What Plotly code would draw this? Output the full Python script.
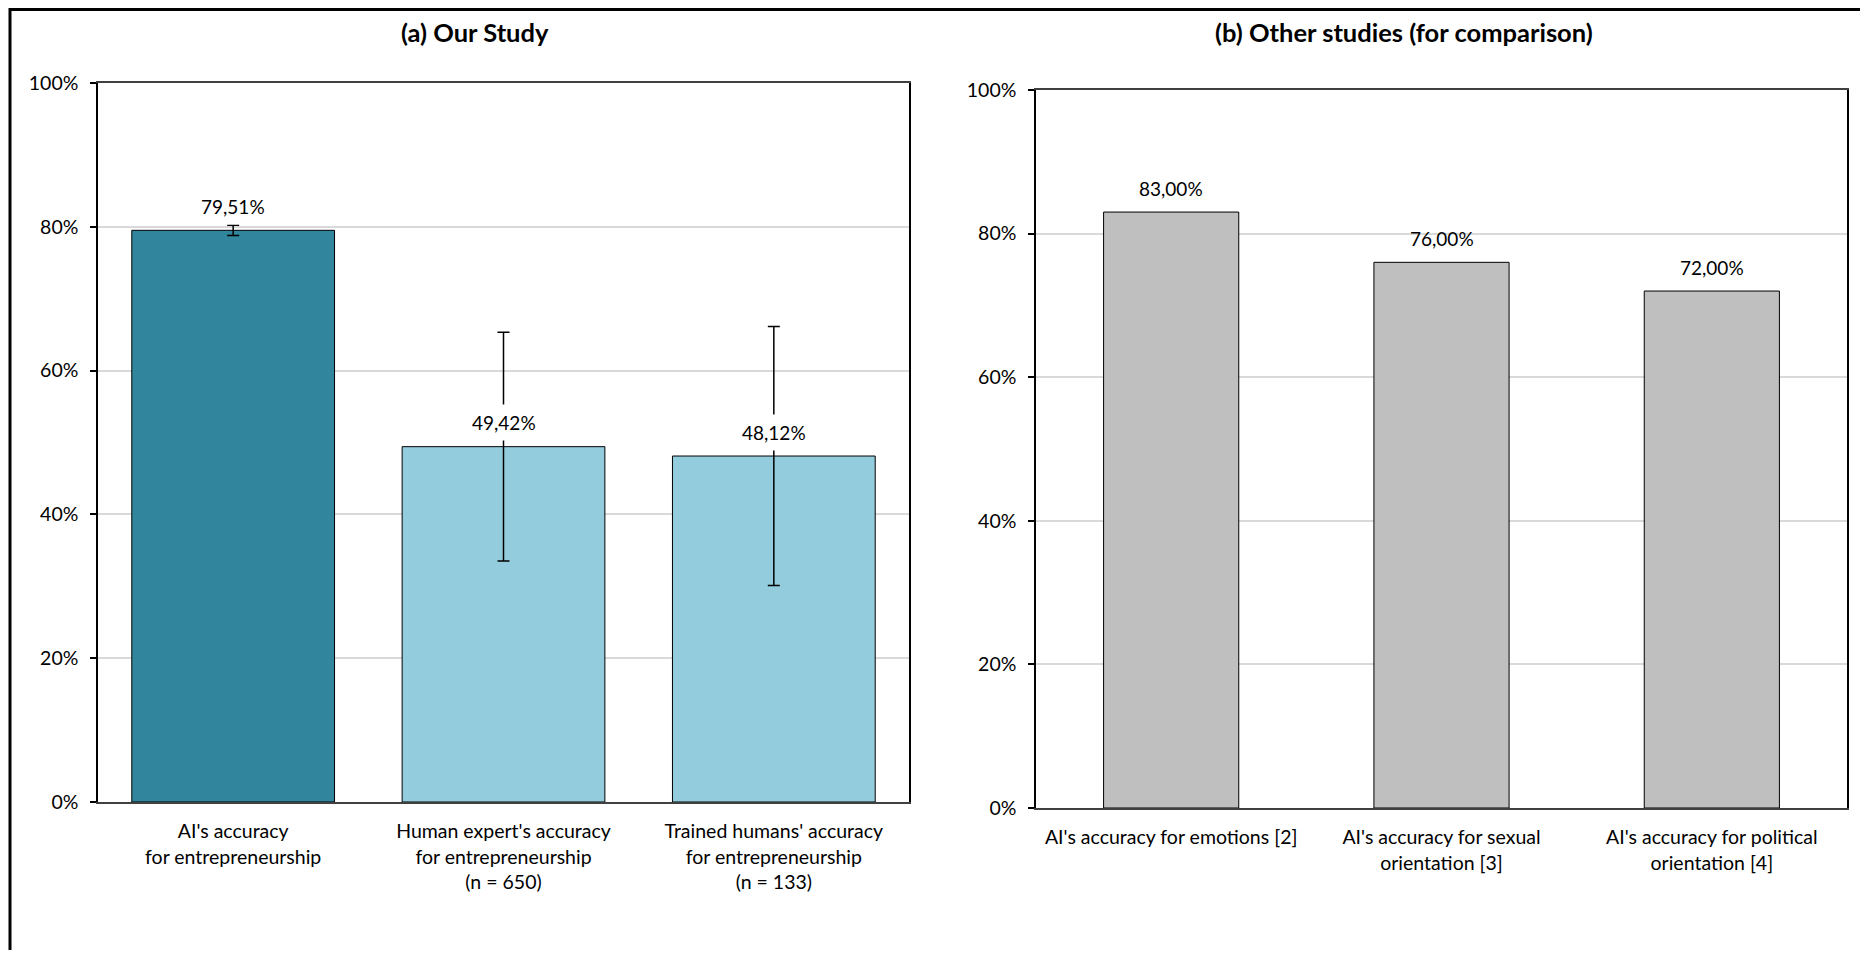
import plotly.graph_objects as go

# page body has an 8px margin; figure is sized/offset to fit the 1868x958 window
OFF = 8
W, H = 1868 - 2 * OFF, 958 - 2 * OFF


def px(x):
    return (x - OFF) / W


def py(y):
    return 1 - (y - OFF) / H


# ---- data ----
ours_categories = [
    "AI's accuracy<br>for entrepreneurship",
    "Human expert's accuracy<br>for entrepreneurship<br>(n = 650)",
    "Trained humans' accuracy<br>for entrepreneurship<br>(n = 133)",
]
ours_values = [0.7951, 0.4942, 0.4812]
ours_errors = [0.0072, 0.1590, 0.1800]
ours_colors = ["#31859C", "#93CDDD", "#93CDDD"]

other_categories = [
    "AI's accuracy for emotions [2]",
    "AI's accuracy for sexual<br>orientation [3]",
    "AI's accuracy for political<br>orientation [4]",
]
other_values = [0.83, 0.76, 0.72]
other_color = "#BFBFBF"

y_tickvals = [0, 0.2, 0.4, 0.6, 0.8, 1.0]
y_ticktext = ["0%", "20%", "40%", "60%", "80%", "100%"]

panel_titles = ["(a) Our Study", "(b) Other studies (for comparison)"]

FONT = "Lato"
TICK_SIZE = 19.5
VALUE_SIZE = 19
TITLE_SIZE = 25.5


def pct(v):
    return f"{v*100:.2f}".replace(".", ",") + "%"


fig = go.Figure()

fig.add_trace(go.Bar(
    x=ours_categories, y=ours_values, width=0.75,
    marker=dict(color=ours_colors, line=dict(color="black", width=1)),
    error_y=dict(type="data", array=ours_errors, visible=True,
                 color="black", thickness=1.5, width=6),
    xaxis="x", yaxis="y", showlegend=False, hoverinfo="skip",
))
fig.add_trace(go.Bar(
    x=other_categories, y=other_values, width=0.5,
    marker=dict(color=other_color, line=dict(color="black", width=1)),
    xaxis="x2", yaxis="y2", showlegend=False, hoverinfo="skip",
))

annotations = []
for c, v in zip(ours_categories, ours_values):
    annotations.append(dict(
        x=c, y=v, xref="x", yref="y", text=pct(v), showarrow=False,
        yshift=24, yanchor="middle", bgcolor="white", borderpad=6,
        font=dict(family=FONT, size=VALUE_SIZE, color="black"),
    ))
for c, v in zip(other_categories, other_values):
    annotations.append(dict(
        x=c, y=v, xref="x2", yref="y2", text=pct(v), showarrow=False,
        yshift=24, yanchor="middle",
        font=dict(family=FONT, size=VALUE_SIZE, color="black"),
    ))

annotations.append(dict(
    x=px(475), y=py(32), xref="paper", yref="paper", text="<b>" + panel_titles[0] + "</b>",
    showarrow=False, xanchor="center", yanchor="middle",
    font=dict(family=FONT, size=TITLE_SIZE, color="black"),
))
annotations.append(dict(
    x=px(1404), y=py(32), xref="paper", yref="paper", text="<b>" + panel_titles[1] + "</b>",
    showarrow=False, xanchor="center", yanchor="middle",
    font=dict(family=FONT, size=TITLE_SIZE, color="black"),
))

common_y = dict(
    range=[0, 1], tickvals=y_tickvals, ticktext=y_ticktext,
    showgrid=True, gridcolor="#D9D9D9", gridwidth=1.5,
    showline=True, linecolor="black", linewidth=1.5, mirror=True,
    ticks="outside", ticklen=6, tickcolor="black", tickwidth=1.5,
    ticklabelstandoff=8,
    tickfont=dict(family=FONT, size=TICK_SIZE, color="black"),
    zeroline=False, automargin=False, fixedrange=True,
)
common_x = dict(
    showline=True, linecolor="#404040", linewidth=1.5, mirror=True,
    ticks="", ticklabelstandoff=11,
    tickfont=dict(family=FONT, size=TICK_SIZE, color="black"),
    automargin=False, fixedrange=True,
)

fig.update_layout(
    width=W, height=H,
    margin=dict(l=0, r=0, t=0, b=0),
    paper_bgcolor="white", plot_bgcolor="white",
    xaxis=dict(domain=[px(98), px(909)], anchor="y", **common_x),
    yaxis=dict(domain=[py(802), py(83)], anchor="x", **common_y),
    xaxis2=dict(domain=[px(1036), px(1847)], anchor="y2", **common_x),
    yaxis2=dict(domain=[py(808), py(90)], anchor="x2", **common_y),
    annotations=annotations,
    shapes=[
        dict(type="line", xref="paper", yref="paper", x0=px(10), x1=1.0,
             y0=1 - 1.5 / H, y1=1 - 1.5 / H, line=dict(color="black", width=3)),
        dict(type="line", xref="paper", yref="paper", x0=px(10), x1=px(10),
             y0=0, y1=1, line=dict(color="black", width=3)),
    ],
)

fig.write_html("out.html")
